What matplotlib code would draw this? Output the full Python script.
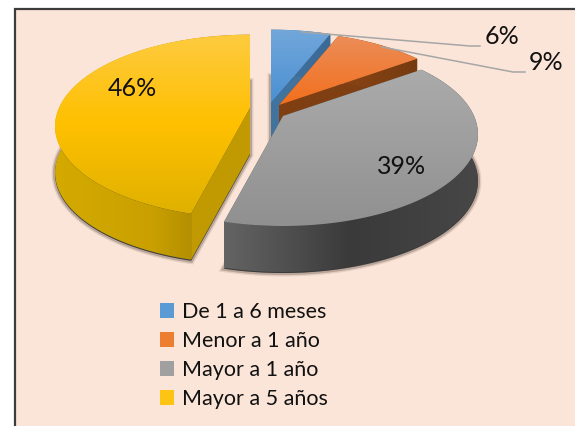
import numpy as np
import matplotlib
matplotlib.use("Agg")
import matplotlib.pyplot as plt
import matplotlib.patheffects as pe
from matplotlib.colors import LinearSegmentedColormap
from matplotlib.patches import Patch, Polygon, Rectangle

plt.rcParams["font.family"] = ["Lato", "DejaVu Sans"]

categories = ["De 1 a 6 meses", "Menor a 1 año", "Mayor a 1 año", "Mayor a 5 años"]
values = [6, 9, 39, 46]
value_labels = ["6%", "9%", "39%", "46%"]

# look of each slice
legend_colors = ["#5b9bd5", "#ed7d31", "#a0a0a0", "#fdc413"]
top_colors = [["#72a7da", "#4b90d2"], ["#ec8d58", "#f26f1c"], ["#ababab", "#909090"],
              ["#fdcb40", "#ffc000", "#dfb100"]]
wall_colors = [["#41719c", "#3a6a96"], ["#8a4515", "#763a10"], ["#646464", "#3a3a3a", "#474747"],
               ["#d4aa00", "#c9a000", "#957500"]]
cut_colors = ["#41739f", "#7f3f13", "#555555", "#c09a00"]
centers = [(271, 103), (279, 105), (283, 116), (250, 108)]
label_pos = [(502, 36), (546, 62), (402, 167), (132, 88)]

R = 191
A = 88
K = 0.2
DEPTH = 46


def project(theta, center):
    # clockwise from the top, the back of the pie is pushed away a bit
    th = np.radians(theta)
    s = 1 / (1 + K * np.cos(th))
    return center[0] + R * np.sin(th) * s, center[1] - A * np.cos(th) * s


def gradient(ax, pts, colors, vertical=True, zorder=2):
    pts = np.asarray(pts)
    cmap = LinearSegmentedColormap.from_list("g", colors)
    ramp = np.linspace(0, 1, 256)
    ramp = ramp[:, None] if vertical else ramp[None, :]
    x0, y0 = pts.min(axis=0)
    x1, y1 = pts.max(axis=0)
    im = ax.imshow(ramp, cmap=cmap, extent=(x0, x1, y1, y0), origin="upper",
                   aspect="auto", interpolation="bilinear", zorder=zorder)
    clip = Polygon(pts, closed=True, transform=ax.transData, facecolor="none", edgecolor="none")
    ax.add_patch(clip)
    im.set_clip_path(clip)


fig = plt.figure(figsize=(5.75, 4.26), dpi=100)
ax = fig.add_axes([0, 0, 1, 1])

ax.add_patch(Rectangle((15, 9), 600, 460, facecolor="#fbe5d8", edgecolor="#3c3c3c", linewidth=1.6))

edges = np.cumsum([0] + values) * 3.6
# yellow first, gray last, so the front slice covers the walls behind it
for i in [3, 0, 1, 2]:
    c = centers[i]
    thetas = np.arange(edges[i], edges[i + 1] + 0.5, 1.0)
    thetas[-1] = edges[i + 1]
    rim = np.array([project(t, c) for t in thetas])
    top = np.vstack([[c], rim])
    low = top + [0, DEPTH]

    shadow = Polygon(low + [0, 1], closed=True, facecolor="#3a3a3a", edgecolor="none", zorder=2)
    shadow.set_path_effects([
        pe.Stroke(linewidth=5, foreground="#3a2a20", alpha=0.12),
        pe.Stroke(linewidth=3, foreground="#3a2a20", alpha=0.25),
        pe.Normal(),
    ])
    ax.add_patch(shadow)

    for edge in (rim[0], rim[-1]):
        cut = [c, edge, edge + [0, DEPTH], np.add(c, [0, DEPTH])]
        ax.add_patch(Polygon(cut, closed=True, facecolor=cut_colors[i], edgecolor="none", zorder=2))
    wall = np.vstack([rim, (rim + [0, DEPTH])[::-1]])
    gradient(ax, wall, wall_colors[i], vertical=False)
    gradient(ax, top, top_colors[i])

# leader lines of the two small slices
ax.plot([302, 470, 480], [32, 46, 46], color="#a6a6a6", linewidth=1.1, zorder=3)
ax.plot([382, 513, 525], [47, 72, 72], color="#a6a6a6", linewidth=1.1, zorder=3)

for txt, pos in zip(value_labels, label_pos):
    ax.text(pos[0], pos[1], txt, ha="center", va="center", fontsize=18, color="#111111", zorder=4)

handles = [Patch(facecolor=col, edgecolor="none") for col in legend_colors]
ax.legend(handles, categories, loc="upper left", bbox_to_anchor=(160 / 575, 1 - 302 / 426),
          frameon=False, fontsize=15.5, handlelength=0.65, handleheight=0.65, handletextpad=0.35,
          labelspacing=0.42, borderpad=0, borderaxespad=0, labelcolor="#111111")

ax.set_xlim(0, 575)
ax.set_ylim(426, 0)
ax.axis("off")

fig.savefig("out.png", dpi=100, facecolor="white")
